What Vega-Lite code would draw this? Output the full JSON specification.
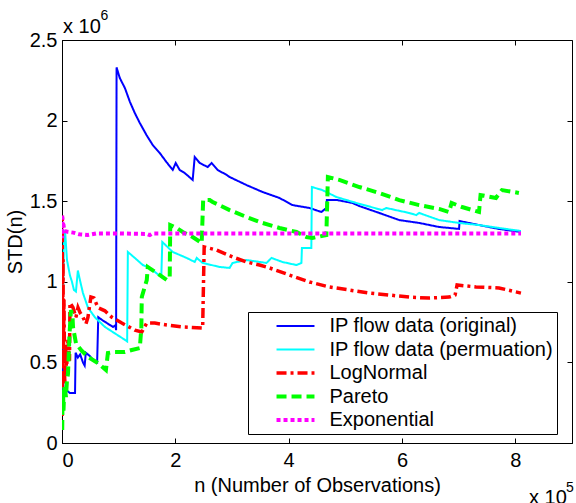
{
"$schema": "https://vega.github.io/schema/vega-lite/v6.json",
"width": 510,
"height": 403,
"autosize": {"type": "none"},
"padding": {"left": 62, "top": 40, "right": 4, "bottom": 60},
"config": {
  "font": "Liberation Sans",
  "view": {"stroke": "black", "strokeWidth": 1},
  "axis": {"grid": false, "domainColor": "black", "tickColor": "black", "labelColor": "black", "titleColor": "black", "labelFontSize": 20, "titleFontSize": 20, "titleFontWeight": "normal", "tickSize": -5, "tickWidth": 1, "domainWidth": 1},
  "legend": {"orient": "none", "legendX": 186, "legendY": 272, "strokeColor": "black", "fillColor": "white", "padding": 4, "rowPadding": 3.5, "labelFontSize": 20, "labelColor": "black", "symbolType": "M-4,0H4", "symbolSize": 90, "symbolOffset": 33.5, "labelOffset": 24, "labelLimit": 400, "title": null}
},
"data": {"values": [
{"s":"IP flow data (original)","n":0.004,"v":0.27},
{"s":"IP flow data (original)","n":0.011,"v":0.70},
{"s":"IP flow data (original)","n":0.018,"v":0.39},
{"s":"IP flow data (original)","n":0.035,"v":0.30},
{"s":"IP flow data (original)","n":0.07,"v":0.33},
{"s":"IP flow data (original)","n":0.14,"v":0.31},
{"s":"IP flow data (original)","n":0.23,"v":0.31},
{"s":"IP flow data (original)","n":0.24,"v":0.56},
{"s":"IP flow data (original)","n":0.28,"v":0.53},
{"s":"IP flow data (original)","n":0.32,"v":0.55},
{"s":"IP flow data (original)","n":0.37,"v":0.50},
{"s":"IP flow data (original)","n":0.40,"v":0.48},
{"s":"IP flow data (original)","n":0.42,"v":0.56},
{"s":"IP flow data (original)","n":0.49,"v":0.54},
{"s":"IP flow data (original)","n":0.56,"v":0.51},
{"s":"IP flow data (original)","n":0.62,"v":0.50},
{"s":"IP flow data (original)","n":0.63,"v":0.64},
{"s":"IP flow data (original)","n":0.64,"v":0.78},
{"s":"IP flow data (original)","n":0.72,"v":0.76},
{"s":"IP flow data (original)","n":0.81,"v":0.74},
{"s":"IP flow data (original)","n":0.90,"v":0.72},
{"s":"IP flow data (original)","n":0.94,"v":0.73},
{"s":"IP flow data (original)","n":0.955,"v":0.70},
{"s":"IP flow data (original)","n":0.963,"v":2.33},
{"s":"IP flow data (original)","n":1.02,"v":2.264},
{"s":"IP flow data (original)","n":1.11,"v":2.202},
{"s":"IP flow data (original)","n":1.20,"v":2.115},
{"s":"IP flow data (original)","n":1.285,"v":2.047},
{"s":"IP flow data (original)","n":1.373,"v":1.985},
{"s":"IP flow data (original)","n":1.49,"v":1.911},
{"s":"IP flow data (original)","n":1.60,"v":1.849},
{"s":"IP flow data (original)","n":1.725,"v":1.799},
{"s":"IP flow data (original)","n":1.843,"v":1.743},
{"s":"IP flow data (original)","n":1.954,"v":1.694},
{"s":"IP flow data (original)","n":2.007,"v":1.737},
{"s":"IP flow data (original)","n":2.077,"v":1.694},
{"s":"IP flow data (original)","n":2.165,"v":1.675},
{"s":"IP flow data (original)","n":2.306,"v":1.632},
{"s":"IP flow data (original)","n":2.342,"v":1.774},
{"s":"IP flow data (original)","n":2.43,"v":1.737},
{"s":"IP flow data (original)","n":2.57,"v":1.712},
{"s":"IP flow data (original)","n":2.64,"v":1.737},
{"s":"IP flow data (original)","n":2.746,"v":1.694},
{"s":"IP flow data (original)","n":2.905,"v":1.663},
{"s":"IP flow data (original)","n":2.958,"v":1.650},
{"s":"IP flow data (original)","n":3.257,"v":1.600},
{"s":"IP flow data (original)","n":3.539,"v":1.557},
{"s":"IP flow data (original)","n":3.838,"v":1.520},
{"s":"IP flow data (original)","n":4.067,"v":1.476},
{"s":"IP flow data (original)","n":4.366,"v":1.458},
{"s":"IP flow data (original)","n":4.577,"v":1.433},
{"s":"IP flow data (original)","n":4.665,"v":1.458},
{"s":"IP flow data (original)","n":4.674,"v":1.507},
{"s":"IP flow data (original)","n":4.859,"v":1.507},
{"s":"IP flow data (original)","n":5.123,"v":1.489},
{"s":"IP flow data (original)","n":5.246,"v":1.470},
{"s":"IP flow data (original)","n":5.599,"v":1.427},
{"s":"IP flow data (original)","n":5.951,"v":1.383},
{"s":"IP flow data (original)","n":6.303,"v":1.365},
{"s":"IP flow data (original)","n":6.655,"v":1.340},
{"s":"IP flow data (original)","n":7.007,"v":1.328},
{"s":"IP flow data (original)","n":7.016,"v":1.377},
{"s":"IP flow data (original)","n":7.359,"v":1.352},
{"s":"IP flow data (original)","n":7.711,"v":1.328},
{"s":"IP flow data (original)","n":8.099,"v":1.309},
{"s":"IP flow data (permuation)","n":0.005,"v":0.70},
{"s":"IP flow data (permuation)","n":0.018,"v":0.89},
{"s":"IP flow data (permuation)","n":0.035,"v":1.29},
{"s":"IP flow data (permuation)","n":0.053,"v":1.32},
{"s":"IP flow data (permuation)","n":0.088,"v":1.135},
{"s":"IP flow data (permuation)","n":0.14,"v":1.04},
{"s":"IP flow data (permuation)","n":0.176,"v":1.00},
{"s":"IP flow data (permuation)","n":0.21,"v":0.95},
{"s":"IP flow data (permuation)","n":0.246,"v":0.94},
{"s":"IP flow data (permuation)","n":0.28,"v":1.07},
{"s":"IP flow data (permuation)","n":0.317,"v":1.01},
{"s":"IP flow data (permuation)","n":0.37,"v":0.93},
{"s":"IP flow data (permuation)","n":0.458,"v":0.84},
{"s":"IP flow data (permuation)","n":0.58,"v":0.78},
{"s":"IP flow data (permuation)","n":0.757,"v":0.72},
{"s":"IP flow data (permuation)","n":0.933,"v":0.68},
{"s":"IP flow data (permuation)","n":1.11,"v":0.64},
{"s":"IP flow data (permuation)","n":1.15,"v":0.63},
{"s":"IP flow data (permuation)","n":1.162,"v":1.185},
{"s":"IP flow data (permuation)","n":1.285,"v":1.148},
{"s":"IP flow data (permuation)","n":1.426,"v":1.104},
{"s":"IP flow data (permuation)","n":1.55,"v":1.086},
{"s":"IP flow data (permuation)","n":1.752,"v":1.030},
{"s":"IP flow data (permuation)","n":1.77,"v":1.247},
{"s":"IP flow data (permuation)","n":1.954,"v":1.185},
{"s":"IP flow data (permuation)","n":2.20,"v":1.148},
{"s":"IP flow data (permuation)","n":2.342,"v":1.123},
{"s":"IP flow data (permuation)","n":2.377,"v":1.148},
{"s":"IP flow data (permuation)","n":2.482,"v":1.117},
{"s":"IP flow data (permuation)","n":2.78,"v":1.092},
{"s":"IP flow data (permuation)","n":2.958,"v":1.086},
{"s":"IP flow data (permuation)","n":3.01,"v":1.117},
{"s":"IP flow data (permuation)","n":3.257,"v":1.135},
{"s":"IP flow data (permuation)","n":3.609,"v":1.117},
{"s":"IP flow data (permuation)","n":3.697,"v":1.148},
{"s":"IP flow data (permuation)","n":3.89,"v":1.123},
{"s":"IP flow data (permuation)","n":4.137,"v":1.104},
{"s":"IP flow data (permuation)","n":4.225,"v":1.117},
{"s":"IP flow data (permuation)","n":4.234,"v":1.21},
{"s":"IP flow data (permuation)","n":4.40,"v":1.21},
{"s":"IP flow data (permuation)","n":4.41,"v":1.588},
{"s":"IP flow data (permuation)","n":4.595,"v":1.569},
{"s":"IP flow data (permuation)","n":4.842,"v":1.526},
{"s":"IP flow data (permuation)","n":5.194,"v":1.489},
{"s":"IP flow data (permuation)","n":5.651,"v":1.445},
{"s":"IP flow data (permuation)","n":5.72,"v":1.458},
{"s":"IP flow data (permuation)","n":6.127,"v":1.427},
{"s":"IP flow data (permuation)","n":6.25,"v":1.414},
{"s":"IP flow data (permuation)","n":6.303,"v":1.427},
{"s":"IP flow data (permuation)","n":6.655,"v":1.383},
{"s":"IP flow data (permuation)","n":7.007,"v":1.365},
{"s":"IP flow data (permuation)","n":7.359,"v":1.352},
{"s":"IP flow data (permuation)","n":7.711,"v":1.334},
{"s":"IP flow data (permuation)","n":8.099,"v":1.315},
{"s":"LogNormal","n":0.002,"v":0.08},
{"s":"LogNormal","n":0.005,"v":1.41},
{"s":"LogNormal","n":0.01,"v":0.39},
{"s":"LogNormal","n":0.018,"v":1.14},
{"s":"LogNormal","n":0.025,"v":0.58},
{"s":"LogNormal","n":0.035,"v":0.89},
{"s":"LogNormal","n":0.048,"v":0.36},
{"s":"LogNormal","n":0.062,"v":0.61},
{"s":"LogNormal","n":0.079,"v":0.45},
{"s":"LogNormal","n":0.106,"v":0.64},
{"s":"LogNormal","n":0.132,"v":0.51},
{"s":"LogNormal","n":0.141,"v":0.87},
{"s":"LogNormal","n":0.194,"v":0.84},
{"s":"LogNormal","n":0.246,"v":0.78},
{"s":"LogNormal","n":0.282,"v":0.84},
{"s":"LogNormal","n":0.317,"v":0.81},
{"s":"LogNormal","n":0.37,"v":0.78},
{"s":"LogNormal","n":0.423,"v":0.74},
{"s":"LogNormal","n":0.458,"v":0.78},
{"s":"LogNormal","n":0.51,"v":0.906},
{"s":"LogNormal","n":0.563,"v":0.90},
{"s":"LogNormal","n":0.634,"v":0.84},
{"s":"LogNormal","n":0.757,"v":0.82},
{"s":"LogNormal","n":0.88,"v":0.78},
{"s":"LogNormal","n":1.056,"v":0.744},
{"s":"LogNormal","n":1.285,"v":0.70},
{"s":"LogNormal","n":1.408,"v":0.689},
{"s":"LogNormal","n":1.496,"v":0.744},
{"s":"LogNormal","n":1.637,"v":0.744},
{"s":"LogNormal","n":1.849,"v":0.732},
{"s":"LogNormal","n":2.13,"v":0.72},
{"s":"LogNormal","n":2.482,"v":0.713},
{"s":"LogNormal","n":2.509,"v":1.216},
{"s":"LogNormal","n":2.729,"v":1.197},
{"s":"LogNormal","n":3.01,"v":1.154},
{"s":"LogNormal","n":3.257,"v":1.123},
{"s":"LogNormal","n":3.486,"v":1.104},
{"s":"LogNormal","n":3.662,"v":1.086},
{"s":"LogNormal","n":4.014,"v":1.042},
{"s":"LogNormal","n":4.366,"v":0.999},
{"s":"LogNormal","n":4.718,"v":0.968},
{"s":"LogNormal","n":5.07,"v":0.949},
{"s":"LogNormal","n":5.423,"v":0.93},
{"s":"LogNormal","n":5.775,"v":0.918},
{"s":"LogNormal","n":6.127,"v":0.905},
{"s":"LogNormal","n":6.479,"v":0.899},
{"s":"LogNormal","n":6.831,"v":0.905},
{"s":"LogNormal","n":6.937,"v":0.918},
{"s":"LogNormal","n":6.972,"v":0.98},
{"s":"LogNormal","n":7.306,"v":0.968},
{"s":"LogNormal","n":7.711,"v":0.962},
{"s":"LogNormal","n":8.099,"v":0.93},
{"s":"Pareto","n":0.004,"v":0.08},
{"s":"Pareto","n":0.009,"v":0.27},
{"s":"Pareto","n":0.018,"v":0.33},
{"s":"Pareto","n":0.026,"v":0.20},
{"s":"Pareto","n":0.044,"v":0.36},
{"s":"Pareto","n":0.07,"v":0.285},
{"s":"Pareto","n":0.088,"v":0.39},
{"s":"Pareto","n":0.106,"v":0.43},
{"s":"Pareto","n":0.132,"v":0.67},
{"s":"Pareto","n":0.158,"v":0.825},
{"s":"Pareto","n":0.185,"v":0.79},
{"s":"Pareto","n":0.194,"v":0.72},
{"s":"Pareto","n":0.246,"v":0.62},
{"s":"Pareto","n":0.335,"v":0.577},
{"s":"Pareto","n":0.458,"v":0.534},
{"s":"Pareto","n":0.634,"v":0.496},
{"s":"Pareto","n":0.775,"v":0.453},
{"s":"Pareto","n":0.81,"v":0.558},
{"s":"Pareto","n":0.933,"v":0.565},
{"s":"Pareto","n":1.11,"v":0.565},
{"s":"Pareto","n":1.232,"v":0.577},
{"s":"Pareto","n":1.373,"v":0.589},
{"s":"Pareto","n":1.40,"v":0.713},
{"s":"Pareto","n":1.408,"v":0.906},
{"s":"Pareto","n":1.496,"v":1.011},
{"s":"Pareto","n":1.514,"v":1.092},
{"s":"Pareto","n":1.673,"v":1.055},
{"s":"Pareto","n":1.849,"v":1.011},
{"s":"Pareto","n":1.901,"v":1.030},
{"s":"Pareto","n":1.91,"v":1.352},
{"s":"Pareto","n":2.025,"v":1.334},
{"s":"Pareto","n":2.13,"v":1.309},
{"s":"Pareto","n":2.306,"v":1.278},
{"s":"Pareto","n":2.465,"v":1.241},
{"s":"Pareto","n":2.491,"v":1.507},
{"s":"Pareto","n":2.606,"v":1.507},
{"s":"Pareto","n":2.658,"v":1.495},
{"s":"Pareto","n":2.958,"v":1.445},
{"s":"Pareto","n":3.257,"v":1.402},
{"s":"Pareto","n":3.539,"v":1.365},
{"s":"Pareto","n":3.838,"v":1.334},
{"s":"Pareto","n":4.137,"v":1.309},
{"s":"Pareto","n":4.313,"v":1.278},
{"s":"Pareto","n":4.419,"v":1.272},
{"s":"Pareto","n":4.665,"v":1.29},
{"s":"Pareto","n":4.692,"v":1.65},
{"s":"Pareto","n":4.894,"v":1.632},
{"s":"Pareto","n":5.246,"v":1.588},
{"s":"Pareto","n":5.599,"v":1.551},
{"s":"Pareto","n":5.951,"v":1.507},
{"s":"Pareto","n":6.303,"v":1.476},
{"s":"Pareto","n":6.655,"v":1.452},
{"s":"Pareto","n":6.831,"v":1.433},
{"s":"Pareto","n":6.875,"v":1.489},
{"s":"Pareto","n":7.06,"v":1.464},
{"s":"Pareto","n":7.359,"v":1.433},
{"s":"Pareto","n":7.386,"v":1.538},
{"s":"Pareto","n":7.658,"v":1.52},
{"s":"Pareto","n":7.764,"v":1.569},
{"s":"Pareto","n":8.063,"v":1.551},
{"s":"Exponential","n":0.001,"v":1.30},
{"s":"Exponential","n":0.003,"v":1.42},
{"s":"Exponential","n":0.005,"v":1.27},
{"s":"Exponential","n":0.008,"v":1.40},
{"s":"Exponential","n":0.012,"v":1.33},
{"s":"Exponential","n":0.02,"v":1.37},
{"s":"Exponential","n":0.035,"v":1.33},
{"s":"Exponential","n":0.05,"v":1.315},
{"s":"Exponential","n":0.1,"v":1.31},
{"s":"Exponential","n":0.2,"v":1.305},
{"s":"Exponential","n":0.3,"v":1.295},
{"s":"Exponential","n":0.45,"v":1.29},
{"s":"Exponential","n":0.6,"v":1.30},
{"s":"Exponential","n":1.0,"v":1.30},
{"s":"Exponential","n":1.5,"v":1.297},
{"s":"Exponential","n":1.55,"v":1.29},
{"s":"Exponential","n":1.6,"v":1.30},
{"s":"Exponential","n":3.0,"v":1.30},
{"s":"Exponential","n":5.0,"v":1.30},
{"s":"Exponential","n":8.1,"v":1.30}
]},
"resolve": {"axis": {"x": "independent", "y": "independent"}},
"layer": [
  {
    "mark": {"type": "line", "clip": true, "strokeCap": "butt", "strokeJoin": "miter"},
    "encoding": {
      "x": {"field": "n", "type": "quantitative", "scale": {"domain": [0, 9], "nice": false, "zero": false},
            "axis": {"orient": "bottom", "values": [0, 2, 4, 6, 8], "title": "n (Number of Observations)", "labelPadding": 12, "titlePadding": 5, "format": "~g"}},
      "y": {"field": "v", "type": "quantitative", "scale": {"domain": [0, 2.5], "nice": false, "zero": false},
            "axis": {"orient": "left", "values": [0, 0.5, 1, 1.5, 2, 2.5], "title": "STD(n)", "labelPadding": 10, "titlePadding": 4, "format": "~g"}},
      "color": {"field": "s", "type": "nominal",
                "scale": {"domain": ["IP flow data (original)", "IP flow data (permuation)", "LogNormal", "Pareto", "Exponential"],
                          "range": ["#0000FF", "#00FFFF", "#FF0000", "#00FF00", "#FF00FF"]}},
      "strokeDash": {"field": "s", "type": "nominal",
                "scale": {"domain": ["IP flow data (original)", "IP flow data (permuation)", "LogNormal", "Pareto", "Exponential"],
                          "range": [[1, 0], [1, 0], [10, 4, 3, 4], [10, 5], [4, 3]]}},
      "strokeWidth": {"field": "s", "type": "nominal",
                "scale": {"type": "ordinal", "domain": ["IP flow data (original)", "IP flow data (permuation)", "LogNormal", "Pareto", "Exponential"],
                          "range": [2, 2, 3.5, 4, 4]}}
    }
  },
  {
    "mark": {"type": "point", "opacity": 0},
    "encoding": {
      "x": {"field": "n", "type": "quantitative", "axis": {"orient": "top", "values": [0, 2, 4, 6, 8], "labels": false, "title": null, "domain": false}},
      "y": {"field": "v", "type": "quantitative", "axis": {"orient": "right", "values": [0, 0.5, 1, 1.5, 2, 2.5], "labels": false, "title": null, "domain": false}}
    }
  },
  {
    "data": {"values": [{}]},
    "mark": {"type": "text", "text": "x 10", "align": "left", "baseline": "alphabetic", "dx": 1, "dy": -7, "fontSize": 20, "color": "black"},
    "encoding": {"x": {"datum": 0, "type": "quantitative", "axis": null}, "y": {"datum": 2.5, "type": "quantitative", "axis": null}}
  },
  {
    "data": {"values": [{}]},
    "mark": {"type": "text", "text": "6", "align": "left", "baseline": "alphabetic", "dx": 38.5, "dy": -20, "fontSize": 14, "color": "black"},
    "encoding": {"x": {"datum": 0, "type": "quantitative", "axis": null}, "y": {"datum": 2.5, "type": "quantitative", "axis": null}}
  },
  {
    "data": {"values": [{}]},
    "mark": {"type": "text", "text": "x 10", "align": "left", "baseline": "alphabetic", "dx": -43, "dy": 61, "fontSize": 20, "color": "black"},
    "encoding": {"x": {"datum": 9, "type": "quantitative", "axis": null}, "y": {"datum": 0, "type": "quantitative", "axis": null}}
  },
  {
    "data": {"values": [{}]},
    "mark": {"type": "text", "text": "5", "align": "left", "baseline": "alphabetic", "dx": -6, "dy": 49, "fontSize": 14, "color": "black"},
    "encoding": {"x": {"datum": 9, "type": "quantitative", "axis": null}, "y": {"datum": 0, "type": "quantitative", "axis": null}}
  }
]
}
